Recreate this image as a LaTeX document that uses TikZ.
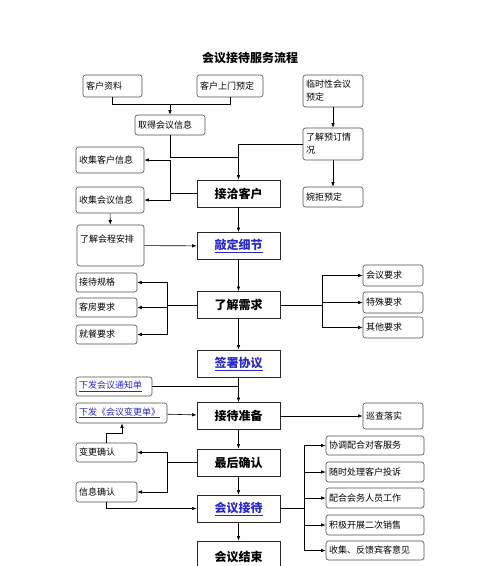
\documentclass[tikz,border=0pt]{standalone}
\usepackage{fontspec}
\newfontfamily\cjk{Noto Sans CJK SC}
\usetikzlibrary{arrows.meta}
\definecolor{linkblue}{RGB}{40,40,200}
\begin{document}
\begin{tikzpicture}[x=1pt, y=-1pt, line width=0.6pt, >={Latex[length=4.5pt,width=3.5pt]},
  main/.style={draw=black!85, line width=0.9pt, minimum width=83pt, minimum height=27pt, inner sep=0pt, font=\cjk\fontsize{12}{14}\selectfont\bfseries},
  small/.style={draw=black!70, rounded corners=2.5pt, inner xsep=3pt, inner ysep=2pt, minimum height=20pt, align=left, font=\cjk\fontsize{9}{13}\selectfont},
  link/.style={text=linkblue}]
\useasboundingbox (0,0) rectangle (500,566);
\node[font=\cjk\fontsize{12}{14}\selectfont\bfseries] (title) at (250,58) {会议接待服务流程};
\node[small, text width=53pt, minimum height=22pt] (P_-1_0) at (112.5,86) {客户资料};
\node[small, text width=60pt, minimum height=22pt] (P_0_0) at (230,86) {客户上门预定};
\node[small, text width=54pt, minimum height=32pt] (P_1_0) at (333,91) {临时性会议\\预定};
\coordinate (J_0) at (170,104);
\draw (P_-1_0) |- (J_0);
\draw (P_0_0) |- (J_0);
\node[small, text width=64pt] (P_0_1) at (170,125) {取得会议信息};
\draw[->] (J_0) -- (P_0_1);
\node[small, text width=54pt, minimum height=32pt] (P_1_1) at (333,144) {了解预订情\\况};
\draw[->] (P_1_0) -- (P_1_1);
\node[small, text width=54pt] (P_1_2) at (333,197) {婉拒预定};
\draw[->] (P_1_1) -- (P_1_2);
\node[main] (P_0_2) at (238.5,193.5) {接洽客户};
\coordinate (J_1) at (238.5,157);
\draw (P_0_1) |- (J_1);
\draw[->] (P_1_1) -| (P_0_2);
\node[small, text width=62pt, minimum height=26pt] (P_-1_1) at (110,160) {收集客户信息};
\node[small, text width=62pt, minimum height=26pt] (P_-1_2) at (110,200) {收集会议信息};
\coordinate (J_2) at (170,193.5);
\draw (P_0_2) -- (J_2);
\draw[->] (J_2) |- (P_-1_1);
\draw[->] (J_2) |- (P_-1_2);
\node[small, text width=61pt, text height=15pt, text depth=22pt] (P_-1_3) at (110.5,245.5) {了解会程安排};
\draw[->] (P_-1_2) -- (P_-1_3);
\node[main, link] (P_0_3) at (238.5,246) {\underline{敲定细节}};
\draw[->] (P_0_2) -- (P_0_3);
\draw[->] (P_-1_3) -- (P_0_3);
\node[main] (P_0_4) at (238.5,305) {了解需求};
\draw[->] (P_0_3) -- (P_0_4);
\node[small, text width=55pt, minimum height=19pt] (P_-1_4) at (106.5,282.5) {接待规格};
\node[small, text width=55pt, minimum height=19pt] (P_-1_5) at (106.5,307.5) {客房要求};
\node[small, text width=55pt, minimum height=19pt] (P_-1_6) at (106.5,334.5) {就餐要求};
\coordinate (J_3) at (167,305);
\draw (P_0_4) -- (J_3);
\draw[->] (J_3) |- (P_-1_4);
\draw[->] (J_3) |- (P_-1_5);
\draw[->] (J_3) |- (P_-1_6);
\node[small, text width=54pt, minimum height=21pt] (P_1_3) at (393,275.5) {会议要求};
\node[small, text width=54pt, minimum height=21pt] (P_1_4) at (393,302.5) {特殊要求};
\node[small, text width=54pt, minimum height=21pt] (P_1_5) at (393,327.5) {其他要求};
\coordinate (J_4) at (322,305);
\draw (P_0_4) -- (J_4);
\draw[->] (J_4) |- (P_1_3);
\draw[->] (J_4) |- (P_1_4);
\draw[->] (J_4) |- (P_1_5);
\node[main, link] (P_0_5) at (238.5,363.5) {\underline{签署协议}};
\draw[->] (P_0_4) -- (P_0_5);
\node[main] (P_0_6) at (238.5,416) {接待准备};
\draw[->] (P_0_5) -- (P_0_6);
\node[small, link, text width=70pt, minimum height=19pt] (P_-1_7) at (114,386.5) {\underline{下发会议通知单}};
\draw (P_-1_7) -- (P_-1_7 -| P_0_5);
\node[small, link, text width=85pt] (P_-1_8) at (121.5,413) {\underline{下发《会议变更单》}};
\draw[->] (P_-1_8) -- (P_0_6);
\node[small, text width=54pt, minimum height=26pt] (P_1_6) at (393,416) {巡查落实};
\draw[->] (P_0_6) -- (P_1_6);
\node[main] (P_0_7) at (238.5,462.5) {最后确认};
\draw[->] (P_0_6) -- (P_0_7);
\node[small, text width=55pt, minimum height=19pt] (P_-1_9) at (106.5,452.5) {变更确认};
\node[small, text width=55pt] (P_-1_10) at (106.5,492) {信息确认};
\coordinate (J_5) at (167,462.5);
\draw (P_0_7) -- (J_5);
\draw[->] (J_5) |- (P_-1_9);
\draw[->] (J_5) |- (P_-1_10);
\coordinate (J_6) at (122,433);
\draw[->] (P_-1_9) |- (J_6) -- (J_6 |- P_-1_8.south);
\node[main, link] (P_0_8) at (238.5,508.5) {\underline{会议接待}};
\draw[->] (P_0_7) -- (P_0_8);
\draw[->] (P_-1_10) |- (P_0_8);
\node[main, minimum height=32pt] (P_0_9) at (238.5,557) {会议结束};
\draw[->] (P_0_8) -- (P_0_9);
\node[small, text width=92pt, minimum height=19pt] (P_1_7) at (375,445.5) {协调配合对客服务};
\node[small, text width=92pt] (P_1_8) at (375,472) {随时处理客户投诉};
\node[small, text width=92pt] (P_1_9) at (375,498) {配合会务人员工作};
\node[small, text width=92pt] (P_1_10) at (375,525) {积极开展二次销售};
\node[small, text width=92pt, minimum height=19pt] (P_1_11) at (375,550.5) {收集、反馈宾客意见};
\coordinate (J_7) at (304,508.5);
\draw (P_0_8) -- (J_7);
\draw[->] (J_7) |- (P_1_7);
\draw[->] (J_7) |- (P_1_8);
\draw[->] (J_7) |- (P_1_9);
\draw[->] (J_7) |- (P_1_10);
\draw[->] (J_7) |- (P_1_11);
\end{tikzpicture}
\end{document}
